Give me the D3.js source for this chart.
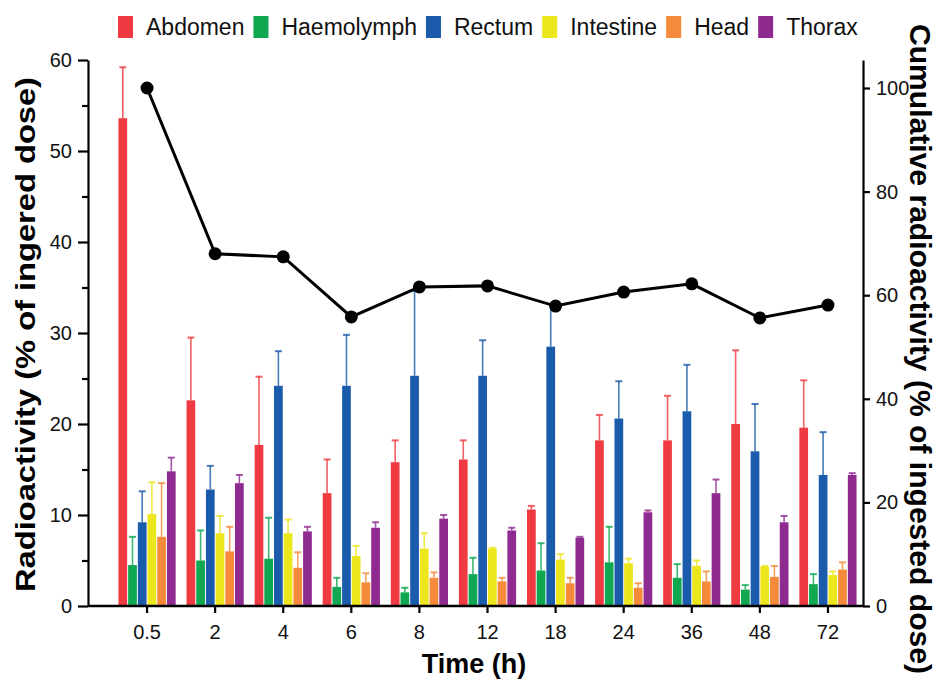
<!DOCTYPE html>
<html>
<head>
<meta charset="utf-8">
<script src="https://cdn.jsdelivr.net/npm/d3@7"></script>
<style>
  body { margin: 0; background: #fff; }
  svg { font-family: "Liberation Sans", Arial, sans-serif; }
</style>
</head>
<body>
<div id="chart"></div>
<script>
// Categories and series
const times = ["0.5", "2", "4", "6", "8", "12", "18", "24", "36", "48", "72"];
const series = ["Abdomen", "Haemolymph", "Rectum", "Intestine", "Head", "Thorax"];

// Mean radioactivity (% of ingested dose) per tissue
const abdomen    = [53.6, 22.6, 17.7, 12.4, 15.8, 16.1, 10.6, 18.2, 18.2, 20.0, 19.6];
const haemolymph = [4.5, 5.0, 5.2, 2.1, 1.5, 3.5, 3.9, 4.8, 3.1, 1.8, 2.4];
const rectum     = [9.2, 12.8, 24.2, 24.2, 25.3, 25.3, 28.5, 20.6, 21.4, 17.0, 14.4];
const intestine  = [10.1, 8.0, 8.0, 5.5, 6.3, 6.3, 5.1, 4.7, 4.4, 4.3, 3.4];
const head       = [7.6, 6.0, 4.2, 2.6, 3.1, 2.7, 2.5, 2.0, 2.7, 3.2, 4.0];
const thorax     = [14.8, 13.5, 8.2, 8.6, 9.6, 8.3, 7.5, 10.3, 12.4, 9.2, 14.4];

// Upper error bars
const abdomenErr    = [5.6, 6.9, 7.5, 3.7, 2.4, 2.1, 0.4, 2.8, 4.9, 8.1, 5.2];
const haemolymphErr = [3.1, 3.3, 4.5, 1.0, 0.5, 1.8, 3.0, 3.9, 1.5, 0.5, 1.1];
const rectumErr     = [3.4, 2.6, 3.8, 5.6, 9.3, 3.9, 4.7, 4.1, 5.1, 5.2, 4.7];
const intestineErr  = [3.5, 1.9, 1.5, 1.1, 1.7, 0.1, 0.6, 0.5, 0.6, 0.1, 0.4];
const headErr       = [5.9, 2.7, 1.7, 1.0, 0.6, 0.4, 0.6, 0.5, 1.1, 1.2, 0.8];
const thoraxErr     = [1.5, 0.9, 0.5, 0.6, 0.4, 0.3, 0.1, 0.2, 1.5, 0.7, 0.2];

// Cumulative radioactivity (right axis)
const cumulative = [100, 68.0, 67.4, 55.8, 61.6, 61.8, 57.9, 60.6, 62.2, 55.6, 58.1];

// Tick values
const leftTicks = [0, 10, 20, 30, 40, 50, 60];
const leftMinor = [5, 15, 25, 35, 45, 55];
const rightTicks = [0, 20, 40, 60, 80, 100];

const colors = ["#ee3a40", "#0fa750", "#1b5bab", "#ece61c", "#f58a3a", "#8f2b90"];

const means = [abdomen, haemolymph, rectum, intestine, head, thorax];
const errs = [abdomenErr, haemolymphErr, rectumErr, intestineErr, headErr, thoraxErr];

const width = 942, height = 684;
const plot = {left: 88, right: 863, bottom: 606, top: 60};

const svg = d3.select("#chart")
  .append("svg")
    .attr("width", width)
    .attr("height", height);

// Scales
const x = d3.scaleBand()
  .domain(times)
  .range([113, 862])
  .paddingInner(0.16)
  .paddingOuter(0.08);

const xSub = d3.scaleBand()
  .domain(series)
  .range([0, x.bandwidth()])
  .paddingInner(0.1);

const y = d3.scaleLinear()
  .domain([0, 60])
  .range([plot.bottom, plot.top]);

const y2 = d3.scaleLinear()
  .domain([0, 100 * (plot.bottom - plot.top) / (plot.bottom - 88)])
  .range([plot.bottom, plot.top]);

const color = d3.scaleOrdinal()
  .domain(series)
  .range(colors);

// Flatten the bar data
const bars = [];
series.forEach((s, si) => {
  times.forEach((t, ti) => {
    bars.push({series: s, time: t, value: means[si][ti], err: errs[si][ti]});
  });
});

const barMid = d => x(d.time) + xSub(d.series) + xSub.bandwidth() / 2;

// Error bars (drawn first so bars cover the lower part)
const errG = svg.append("g");
errG.selectAll("line.err")
  .data(bars)
  .join("line")
    .attr("class", "err")
    .attr("x1", barMid)
    .attr("x2", barMid)
    .attr("y1", d => y(d.value))
    .attr("y2", d => y(d.value + d.err))
    .attr("stroke", d => color(d.series))
    .attr("stroke-width", 1.6)
    .attr("opacity", 0.8);
errG.selectAll("line.cap")
  .data(bars)
  .join("line")
    .attr("class", "cap")
    .attr("x1", d => barMid(d) - 3.5)
    .attr("x2", d => barMid(d) + 3.5)
    .attr("y1", d => y(d.value + d.err))
    .attr("y2", d => y(d.value + d.err))
    .attr("stroke", d => color(d.series))
    .attr("stroke-width", 2)
    .attr("opacity", 0.8);

// Add bars
svg.append("g")
  .selectAll("rect")
  .data(bars)
  .join("rect")
    .attr("x", d => x(d.time) + xSub(d.series))
    .attr("y", d => y(d.value))
    .attr("width", xSub.bandwidth())
    .attr("height", d => y(0) - y(d.value))
    .attr("fill", d => color(d.series));

// Cumulative line
const line = d3.line()
  .x((d, i) => x(times[i]) + x.bandwidth() / 2)
  .y(d => y2(d));

svg.append("path")
  .datum(cumulative)
  .attr("d", line)
  .attr("fill", "none")
  .attr("stroke", "#000")
  .attr("stroke-width", 3);

svg.append("g")
  .selectAll("circle")
  .data(cumulative)
  .join("circle")
    .attr("cx", (d, i) => x(times[i]) + x.bandwidth() / 2)
    .attr("cy", d => y2(d))
    .attr("r", 6.5)
    .attr("fill", "#000");

// Left Y axis
svg.append("g")
  .attr("transform", `translate(${plot.left},0)`)
  .call(d3.axisLeft(y).tickValues(leftTicks).tickSize(10).tickPadding(6).tickSizeOuter(0));
svg.append("g")
  .attr("transform", `translate(${plot.left},0)`)
  .call(d3.axisLeft(y).tickValues(leftMinor).tickSize(6).tickFormat("").tickSizeOuter(0))
  .select(".domain").remove();

// Right Y axis
svg.append("g")
  .attr("transform", `translate(${plot.right},0)`)
  .call(d3.axisRight(y2).tickValues(rightTicks).tickSize(7).tickPadding(6).tickSizeOuter(0));

// Bottom X axis
const xAxis = svg.append("g")
  .attr("transform", `translate(0,${plot.bottom})`)
  .call(d3.axisBottom(x).tickSize(7).tickPadding(12).tickSizeOuter(0));
xAxis.select(".domain").remove();
svg.append("line")
  .attr("x1", plot.left)
  .attr("x2", plot.right)
  .attr("y1", plot.bottom)
  .attr("y2", plot.bottom)
  .attr("stroke", "#000")
  .attr("stroke-width", 2.5);

svg.selectAll(".tick text")
  .attr("font-size", 20)
  .attr("font-family", "Liberation Sans, Arial, sans-serif")
  .attr("fill", "#111");
svg.selectAll(".tick line, .domain")
  .attr("stroke", "#000")
  .attr("stroke-width", 2.2);

// Axis titles
svg.append("text")
  .attr("transform", `translate(35,${(77 + 592) / 2}) rotate(-90)`)
  .attr("text-anchor", "middle")
  .attr("font-size", 28)
  .attr("font-weight", "bold")
  .attr("textLength", 515)
  .attr("lengthAdjust", "spacingAndGlyphs")
  .text("Radioactivity (% of ingered dose)");

svg.append("text")
  .attr("transform", `translate(910,349) rotate(90)`)
  .attr("text-anchor", "middle")
  .attr("font-size", 29)
  .attr("font-weight", "bold")
  .attr("textLength", 650)
  .attr("lengthAdjust", "spacingAndGlyphs")
  .text("Cumulative radioactivity (% of ingested dose)");

svg.append("text")
  .attr("x", 474)
  .attr("y", 673)
  .attr("text-anchor", "middle")
  .attr("font-size", 27)
  .attr("font-weight", "bold")
  .text("Time (h)");

// Legend
const legend = svg.append("g");
let lx = 118;
series.forEach(s => {
  legend.append("rect")
    .attr("x", lx)
    .attr("y", 16)
    .attr("width", 15)
    .attr("height", 22)
    .attr("fill", color(s));
  const t = legend.append("text")
    .attr("x", lx + 28)
    .attr("y", 35)
    .attr("font-size", 23)
    .attr("fill", "#111")
    .text(s);
  lx = lx + 28 + t.node().getComputedTextLength() + 9;
});
</script>
</body>
</html>
